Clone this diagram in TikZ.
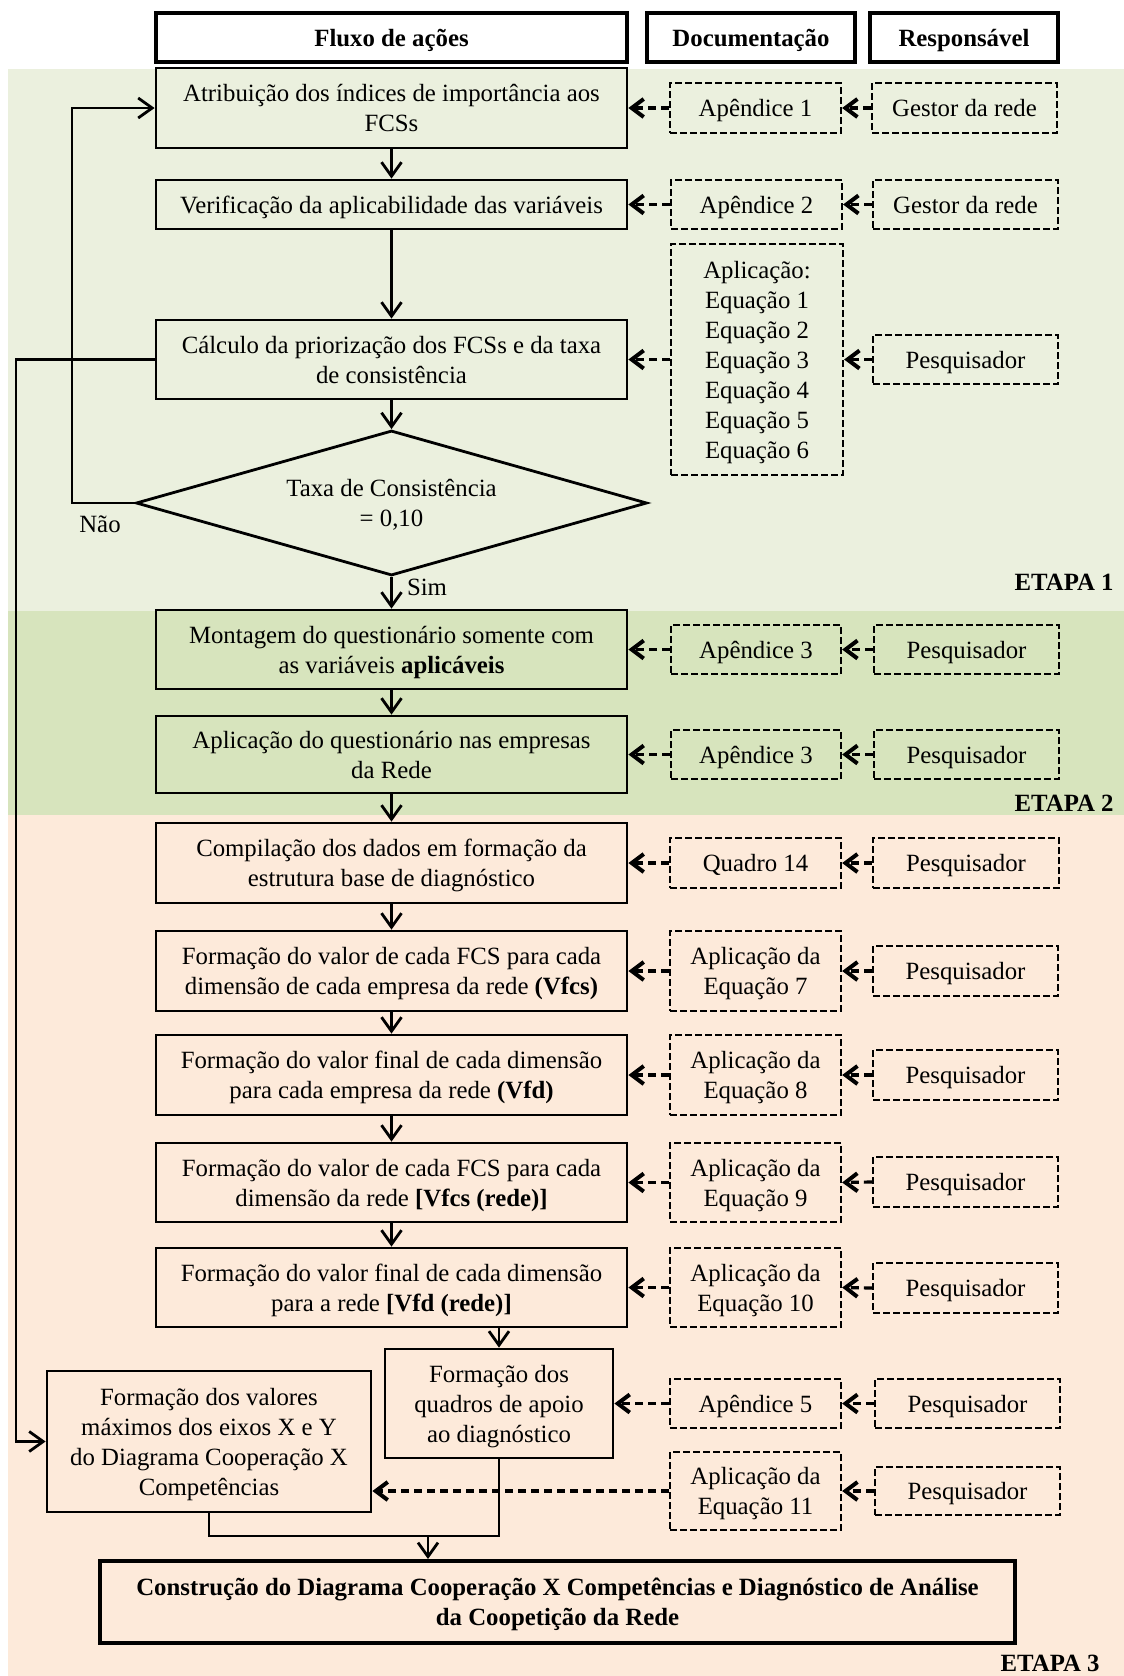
\documentclass[tikz,border=0pt]{standalone}
\usepackage{fontspec}
\setmainfont{Liberation Serif}
\usetikzlibrary{arrows.meta,shapes.geometric}
\definecolor{etA}{RGB}{235,240,222}
\definecolor{etB}{RGB}{215,228,189}
\definecolor{etC}{RGB}{253,234,218}
\newcommand\bxnode[7]{%
  \pgfmathsetmacro\bxcx{(#3+#5)/2}%
  \pgfmathsetmacro\bxcy{(#4+#6)/2}%
  \pgfmathsetmacro\bxww{(#5-#3)*0.5}%
  \pgfmathsetmacro\bxhh{(#6-#4)*0.5}%
  \node[#1, minimum width=\bxww pt, minimum height=\bxhh pt] (#2) at (\bxcx,\bxcy) {#7};}
\begin{document}
\begin{tikzpicture}[x=0.5pt,y=-0.5pt,
  every node/.style={font=\fontsize{12.4}{15}\selectfont, align=center, inner sep=0pt},
  mainbox/.style={draw, line width=1.4pt, text depth=0pt},
  headbox/.style={draw, line width=2pt, fill=white, text depth=0pt, font=\fontsize{12.4}{15}\selectfont\bfseries},
  docbox/.style={draw, line width=1.15pt, text depth=0pt, dash pattern=on 3.5pt off 1.5pt},
  finbox/.style={draw, line width=2pt, text depth=0pt, font=\fontsize{12.4}{15}\selectfont\bfseries},
  arr/.style={line width=1.4pt, -{Straight Barb[length=7pt,width=10pt]}},
  plainline/.style={line width=1.4pt},
  darr/.style={line width=1.6pt, dash pattern=on 4pt off 2.5pt, -{Straight Barb[length=6pt,width=9pt,line width=2pt]}},
  etapa/.style={font=\fontsize{12.4}{15}\selectfont\bfseries, anchor=east}
]
\useasboundingbox (0,0) rectangle (1124,1676);
\fill[white] (0,0) rectangle (1124,1676);
\fill[etA] (7.5,69) rectangle (1124,611);
\fill[etB] (7.5,611) rectangle (1124,815);
\fill[etC] (7.5,815) rectangle (1124,1676);

% headers
\bxnode{headbox}{hflux}{156}{13}{627}{62}{Fluxo de ações}
\bxnode{headbox}{hdoc}{647}{13}{855}{62}{Documentação}
\bxnode{headbox}{hresp}{870}{13}{1058}{62}{Responsável}

% main column
\bxnode{mainbox}{b1}{156}{68}{627}{148}{Atribuição dos índices de importância aos\\FCSs}
\bxnode{mainbox}{b2}{156}{180}{627}{229}{Verificação da aplicabilidade das variáveis}
\bxnode{mainbox}{b3}{156}{320}{627}{399}{Cálculo da priorização dos FCSs e da taxa\\de consistência}
\node[draw, diamond, aspect=3.5, line width=1.4pt, text depth=0pt, minimum width=255.5pt, minimum height=72.5pt] (dia) at (391.5,503) {Taxa de Consistência\\= 0,10};
\bxnode{mainbox}{b4}{156}{610}{627}{689}{Montagem do questionário somente com\\as variáveis \textbf{aplicáveis}}
\bxnode{mainbox}{b5}{156}{716}{627}{793}{Aplicação do questionário nas empresas\\da Rede}
\bxnode{mainbox}{b6}{156}{823}{627}{903}{Compilação dos dados em formação da\\estrutura base de diagnóstico}
\bxnode{mainbox}{b7}{156}{931}{627}{1011}{Formação do valor de cada FCS para cada\\dimensão de cada empresa da rede \textbf{(Vfcs)}}
\bxnode{mainbox}{b8}{156}{1035}{627}{1115}{Formação do valor final de cada dimensão\\para cada empresa da rede \textbf{(Vfd)}}
\bxnode{mainbox}{b9}{156}{1143}{627}{1222}{Formação do valor de cada FCS para cada\\dimensão da rede \textbf{[Vfcs (rede)]}}
\bxnode{mainbox}{b10}{156}{1248}{627}{1327}{Formação do valor final de cada dimensão\\para a rede \textbf{[Vfd (rede)]}}
\bxnode{mainbox}{bq}{385}{1349}{613}{1458}{Formação dos\\quadros de apoio\\ao diagnóstico}
\bxnode{mainbox}{bv}{47}{1371}{371}{1512}{Formação dos valores\\máximos dos eixos X e Y\\do Diagrama Cooperação X\\Competências}
\bxnode{finbox}{bfin}{100}{1561}{1015}{1643}{Construção do Diagrama Cooperação X Competências e Diagnóstico de Análise\\da Coopetição da Rede}

% documentation column
\bxnode{docbox}{d1}{670}{83}{841}{133}{Apêndice 1}
\bxnode{docbox}{d2}{671}{180}{842}{229}{Apêndice 2}
\bxnode{docbox}{d3}{671}{244}{843}{475}{Aplicação:\\Equação 1\\Equação 2\\Equação 3\\Equação 4\\Equação 5\\Equação 6}
\bxnode{docbox}{d4}{671}{625}{841}{674}{Apêndice 3}
\bxnode{docbox}{d5}{671}{730}{841}{779}{Apêndice 3}
\bxnode{docbox}{d6}{670}{838}{841}{888}{Quadro 14}
\bxnode{docbox}{d7}{670}{931}{841}{1011}{Aplicação da\\Equação 7}
\bxnode{docbox}{d8}{670}{1035}{841}{1115}{Aplicação da\\Equação 8}
\bxnode{docbox}{d9}{670}{1143}{841}{1222}{Aplicação da\\Equação 9}
\bxnode{docbox}{d10}{670}{1248}{841}{1327}{Aplicação da\\Equação 10}
\bxnode{docbox}{d11}{670}{1379}{841}{1428}{Apêndice 5}
\bxnode{docbox}{d12}{670}{1452}{841}{1530}{Aplicação da\\Equação 11}

% responsible column
\bxnode{docbox}{r1}{872}{83}{1057}{133}{Gestor da rede}
\bxnode{docbox}{r2}{873}{180}{1058}{229}{Gestor da rede}
\bxnode{docbox}{r3}{873}{335}{1058}{384}{Pesquisador}
\bxnode{docbox}{r4}{874}{625}{1059}{674}{Pesquisador}
\bxnode{docbox}{r5}{874}{730}{1059}{779}{Pesquisador}
\bxnode{docbox}{r6}{873}{838}{1059}{888}{Pesquisador}
\bxnode{docbox}{r7}{873}{946}{1058}{996}{Pesquisador}
\bxnode{docbox}{r8}{873}{1050}{1058}{1100}{Pesquisador}
\bxnode{docbox}{r9}{873}{1157}{1058}{1207}{Pesquisador}
\bxnode{docbox}{r10}{873}{1263}{1058}{1313}{Pesquisador}
\bxnode{docbox}{r11}{875}{1379}{1060}{1428}{Pesquisador}
\bxnode{docbox}{r12}{875}{1467}{1060}{1515}{Pesquisador}

% labels
\node (nao) at (100,524) {Não};
\node (sim) at (427,587) {Sim};
\node[etapa] (e1) at (1114,582) {ETAPA 1};
\node[etapa] (e2) at (1114,803) {ETAPA 2};
\node[etapa] (e3) at (1100,1663) {ETAPA 3};

% helper coordinates
\coordinate (lpA) at (72,0);
\coordinate (lpB) at (16,0);
\coordinate (jn) at (428,1536);

% main flow
\draw[arr] (b1) -- (b2);
\draw[arr] (b2) -- (b3);
\draw[arr] (b3) -- (dia);
\draw[arr] (dia) -- (b4);
\draw[arr] (b4) -- (b5);
\draw[arr] (b5) -- (b6);
\draw[arr] (b6) -- (b7);
\draw[arr] (b7) -- (b8);
\draw[arr] (b8) -- (b9);
\draw[arr] (b9) -- (b10);
\draw[arr] (bq.north |- b10.south) -- (bq.north);
\draw[arr] (dia.west) -- (dia.west -| lpA) |- (b1.west);
\draw[arr] (b3.west) -- (b3.west -| lpB) |- (bv.west);
\draw[plainline] (bv.south) |- (bq.south |- jn) -- (bq.south);
\draw[arr] (jn) -- (jn |- bfin.north);

% documentation arrows
\foreach \i in {1,...,10}{
  \draw[darr] (d\i.west) -- (b\i.east);
}
\draw[darr] (d11.west) -- (bq.east);
\draw[darr] (d12.west) -- (d12.west -| bv.east);
\foreach \i in {1,...,12}{
  \draw[darr] (r\i.west) -- (d\i.east);
}
\end{tikzpicture}
\end{document}
